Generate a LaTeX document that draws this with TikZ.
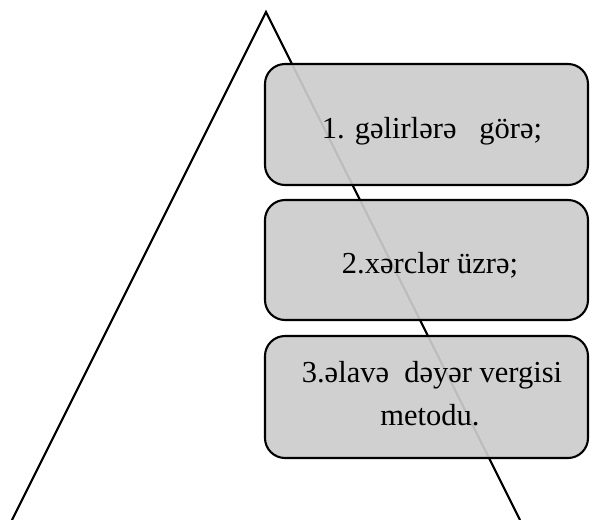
\documentclass[tikz,border=0pt]{standalone}
\usepackage{fontspec}
\setmainfont{Liberation Serif}
\definecolor{boxfill}{RGB}{204,204,204}
\begin{document}
\begin{tikzpicture}[x=1pt,y=-1pt,
  edge/.style={line width=2.1pt},
  itembox/.style={draw=black,line width=2.1pt,rounded corners=20pt,fill=boxfill,fill opacity=0.92},
  itemtext/.style={font=\fontsize{30.5}{43}\selectfont,align=center,text=black,inner sep=0pt}]
\useasboundingbox (0,0) rectangle (590,520);
\coordinate (apex) at (266,12);
\coordinate (bl) at (12,520);
\coordinate (br) at (520,520);
\draw[edge,line join=miter] (bl) -- (apex) -- (br);
\draw[itembox] (265,64) rectangle (588,185);
\draw[itembox] (265,200) rectangle (588,320);
\draw[itembox] (265,336) rectangle (588,458);
\node[itemtext,anchor=base] (t1) at (432,138) {1. gəlirlərə\ \ \ görə;};
\node[itemtext,anchor=base] (t2) at (430,273) {2.xərclər üzrə;};
\node[itemtext,anchor=base] (t3) at (432,382) {3.əlavə\ \ dəyər vergisi};
\node[itemtext,anchor=base] (t4) at (430,425) {metodu.};
\end{tikzpicture}
\end{document}
